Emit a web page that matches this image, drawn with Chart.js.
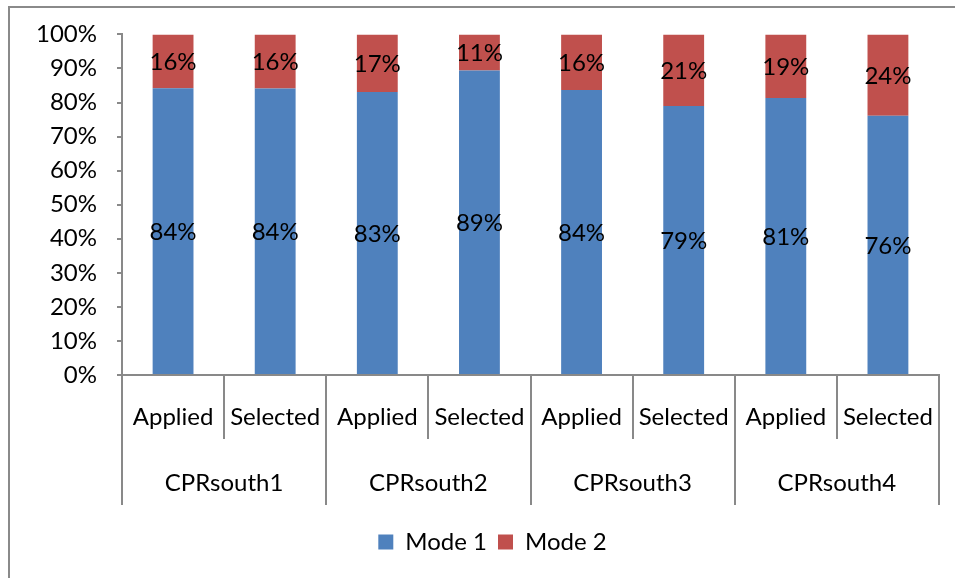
<!DOCTYPE html>
<html><head><meta charset="utf-8">
<script src="https://cdn.jsdelivr.net/npm/chart.js@4.4.1/dist/chart.umd.min.js"></script>
<style>
html,body{margin:0;padding:0;background:#fff;overflow:hidden;width:955px;height:578px;}
#frame{position:absolute;left:8px;top:6px;width:1100px;height:1100px;border:2px solid #8a8a8a;box-sizing:border-box;}
#wrap{position:absolute;left:0;top:0;width:976px;height:578px;}
</style></head>
<body>
<div id="frame"></div>
<div id="wrap"><canvas id="c" width="976" height="578"></canvas></div>
<script>
const subCategories = ["Applied","Selected","Applied","Selected","Applied","Selected","Applied","Selected"];
const groups = ["CPRsouth1","CPRsouth2","CPRsouth3","CPRsouth4"];
const mode1 = [84.2, 84.1, 83.1, 89.4, 83.7, 79.0, 81.3, 76.1];
const mode2 = [15.8, 15.9, 16.9, 10.6, 16.3, 21.0, 18.7, 23.9];
const seriesNames = ["Mode 1","Mode 2"];
const yTicks = [0,10,20,30,40,50,60,70,80,90,100];

const FONT = "Lato";
const AXIS = "#898989";

const labelPlugin = {
  id: 'barLabels',
  afterDatasetsDraw(chart){
    const ctx = chart.ctx;
    ctx.save();
    ctx.font = "24px " + FONT;
    ctx.fillStyle = "#000";
    ctx.textAlign = "center";
    ctx.textBaseline = "middle";
    chart.data.datasets.forEach((ds, di) => {
      const meta = chart.getDatasetMeta(di);
      meta.data.forEach((el, j) => {
        const y = (el.y + el.base) / 2;
        ctx.fillText(Math.round(ds.data[j]) + "%", el.x, y + 1);
      });
    });
    ctx.restore();
  }
};

const legendShift = {
  id: 'legendShift',
  afterLayout(chart){
    const lg = chart.legend;
    if (!lg) return;
    const d = 23;
    lg.left += d; lg.right += d;
    (lg.legendHitBoxes || []).forEach(h => { h.left += d; });
  }
};

const multiAxisPlugin = {
  id: 'multiAxis',
  afterDraw(chart){
    const ctx = chart.ctx;
    const xs = chart.scales.x;
    const n = subCategories.length;
    const step = (xs.right - xs.left) / n;
    const top = xs.top;
    ctx.save();
    ctx.strokeStyle = AXIS;
    ctx.lineWidth = 2;
    for (let i = 0; i <= n; i++) {
      const px = Math.round(xs.getPixelForValue(i) - step / 2) ;
      const bottom = (i % 2 === 0) ? top + 130 : top + 64;
      ctx.beginPath();
      ctx.moveTo(px, top);
      ctx.lineTo(px, bottom);
      ctx.stroke();
    }
    ctx.fillStyle = "#000";
    ctx.font = "24px " + FONT;
    ctx.textAlign = "center";
    ctx.textBaseline = "middle";
    subCategories.forEach((s, i) => {
      ctx.fillText(s, xs.getPixelForValue(i), top + 42);
    });
    groups.forEach((g, gi) => {
      const cx = (xs.getPixelForValue(gi * 2) + xs.getPixelForValue(gi * 2 + 1)) / 2;
      ctx.fillText(g, cx, top + 108);
    });
    ctx.restore();
  }
};

new Chart(document.getElementById('c'), {
  type: 'bar',
  data: {
    labels: subCategories,
    datasets: [
      {label: seriesNames[0], data: mode1, backgroundColor: '#4F81BD', borderWidth: 0},
      {label: seriesNames[1], data: mode2, backgroundColor: '#C0504D', borderWidth: 0}
    ]
  },
  options: {
    responsive: false,
    animation: false,
    devicePixelRatio: 1,
    layout: {padding: {left: 0, top: 28, right: 37, bottom: 14}},
    datasets: {bar: {barPercentage: 0.4, categoryPercentage: 1.0}},
    scales: {
      x: {
        stacked: true,
        grid: {display: false},
        border: {display: true, color: AXIS, width: 2},
        ticks: {display: false},
        afterFit(scale){ scale.height = 144; }
      },
      y: {
        stacked: true,
        min: 0, max: 100,
        afterBuildTicks(scale){ scale.ticks = yTicks.map(v => ({value: v})); },
        grid: {display: true, drawOnChartArea: false, drawTicks: true, tickLength: 5, color: AXIS, lineWidth: 2},
        border: {display: true, color: AXIS, width: 2},
        ticks: {padding: 20, color: '#000', font: {family: FONT, size: 24}, callback: v => v + '%'},
        afterFit(scale){ scale.width = 122; }
      }
    },
    plugins: {
      legend: {
        position: 'bottom',
        labels: {boxWidth: 15, boxHeight: 15, padding: 11, color: '#000', font: {family: FONT, size: 24}}
      },
      tooltip: {enabled: false}
    }
  },
  plugins: [labelPlugin, multiAxisPlugin, legendShift]
});
</script>
</body></html>
